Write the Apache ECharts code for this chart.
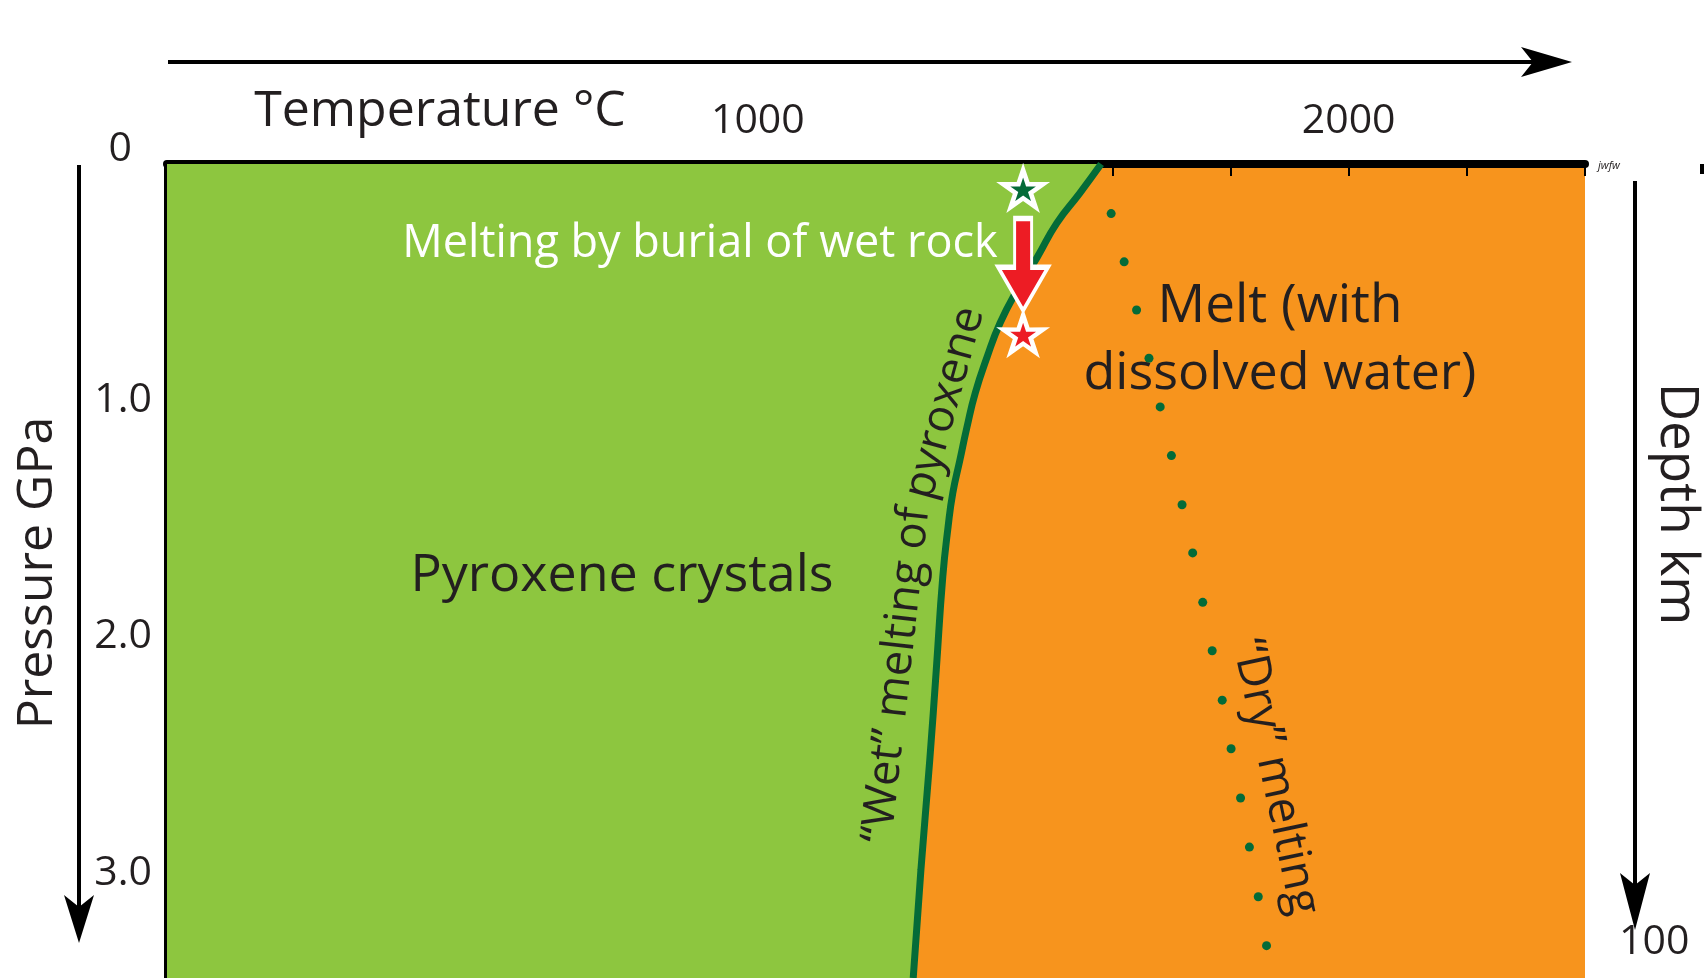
<!DOCTYPE html>
<html>
<head>
<meta charset="utf-8">
<script src="https://cdn.jsdelivr.net/npm/echarts@6.0.0/dist/echarts.min.js"></script>
<style>
  html, body { margin: 0; padding: 0; background: #fff; }
  #chart { width: 1704px; height: 978px; }
</style>
</head>
<body>
<div id="chart"></div>
<script>
  // axes
  var tempMax = 2400;
  var tempLabels = [1000, 2000];
  var pressureMax = 3.445;
  var pressureLabels = [0, 1, 2, 3];
  var depthMax = 104.63;
  var depthTicks = [10, 20, 30, 40, 50, 60, 70, 80, 90, 100];
  var depthLabels = [100];

  // "wet" melting curve of pyroxene (temperature C, pressure GPa)
  var wetT = [1581, 1545, 1506, 1473, 1439, 1410, 1388, 1368, 1354, 1342, 1330, 1322, 1313, 1302, 1291, 1276, 1263];
  var wetP = [0, 0.123, 0.25, 0.394, 0.533, 0.673, 0.817, 0.969, 1.113, 1.253, 1.392, 1.536, 1.748, 2.141, 2.522, 2.988, 3.445];

  // "dry" melting dots
  var dryT = [1598, 1620, 1641, 1662, 1681, 1700, 1718, 1736, 1753, 1769, 1786, 1801, 1817, 1832, 1847, 1861];
  var dryP = [0.21, 0.414, 0.618, 0.822, 1.028, 1.234, 1.442, 1.646, 1.855, 2.06, 2.269, 2.475, 2.683, 2.891, 3.101, 3.308];

  // burial path: start star, arrow, end star
  var burialT = 1449;
  var startP = 0.104;
  var arrowP = 0.425;
  var endP = 0.719;

  var FONT = '"Open Sans", "Noto Sans", sans-serif';
  var INK = '#231f20';
  var DARK = '#046b38';

  var starPath = 'path://M50,0L61.17,34.63L97.55,34.55L68.07,55.87L79.39,90.45L50,69L20.61,90.45L31.93,55.87L2.45,34.55L38.83,34.63Z';
  var arrowPath = 'path://M33,0L67,0L67,53L100,53L50,100L0,53L33,53Z';

  function zip(a, b) {
    return a.map(function (v, i) { return [v, b[i]]; });
  }

  function txt(s, x, y, size, opts) {
    opts = opts || {};
    return {
      type: 'text', x: x, y: y, rotation: opts.rot || 0, z: 100,
      style: {
        text: s, x: 0, y: 0, fill: opts.color || INK,
        font: (opts.style || 'normal') + ' ' + size + 'px ' + FONT,
        align: opts.align || 'center', verticalAlign: 'middle'
      }
    };
  }

  var chart = echarts.init(document.getElementById('chart'));

  var option = {
    animation: false,
    grid: {
      left: 167, right: 119, top: 164, bottom: 0,
      show: true, backgroundColor: '#f7941d', borderWidth: 0
    },
    xAxis: {
      type: 'value', position: 'top', min: 0, max: tempMax, interval: 200,
      axisLine: { show: true, onZero: false, lineStyle: { color: '#000', width: 8, cap: 'round' } },
      axisTick: { inside: true, length: 12, lineStyle: { color: '#000', width: 2 } },
      axisLabel: {
        customValues: tempLabels, margin: 22,
        fontSize: 41, fontFamily: FONT, color: INK,
        formatter: function (v) { return String(v); }
      },
      splitLine: { show: false }
    },
    yAxis: [{
      type: 'value', inverse: true, min: 0, max: pressureMax, interval: 1,
      axisLine: { show: true, onZero: false, lineStyle: { color: '#000', width: 7 } },
      axisTick: { inside: true, length: 25, lineStyle: { color: '#000', width: 2 } },
      axisLabel: {
        customValues: pressureLabels, margin: 15,
        fontSize: 41, fontFamily: FONT, color: INK,
        formatter: function (v) { return v === 0 ? '{z|0}' : v.toFixed(1); },
        rich: { z: { fontSize: 41, fontFamily: FONT, color: INK, padding: [0, 20, 29, 0] } }
      },
      splitLine: { show: false }
    }, {
      type: 'value', inverse: true, position: 'right', min: 0, max: depthMax, interval: 10,
      axisLine: { show: false },
      axisTick: { show: true, customValues: depthTicks, length: 25, lineStyle: { color: '#000', width: 2.5 } },
      axisLabel: {
        customValues: depthLabels, margin: 34,
        fontSize: 41, fontFamily: FONT, color: INK,
        formatter: function (v) { return String(v); }
      },
      splitLine: { show: false }
    }],
    series: [{
      // solid region left of the wet melting curve
      type: 'custom',
      data: [[0, 0]],
      silent: true,
      z: 1,
      renderItem: function (params, api) {
        var pts = [api.coord([0, 0])];
        for (var i = 0; i < wetT.length; i++) pts.push(api.coord([wetT[i], wetP[i]]));
        pts.push(api.coord([0, pressureMax]));
        return { type: 'polygon', shape: { points: pts }, style: { fill: '#8dc63f' } };
      }
    }, {
      name: 'wet', type: 'line', data: zip(wetT, wetP), smooth: 0.5,
      symbol: 'none', z: 3,
      lineStyle: { color: DARK, width: 7 }
    }, {
      name: 'dry', type: 'scatter', data: zip(dryT, dryP),
      symbol: 'circle', symbolSize: 9, z: 3,
      itemStyle: { color: DARK, opacity: 1 }
    }, {
      type: 'scatter', data: [[burialT, arrowP]], z: 5,
      symbol: arrowPath, symbolSize: [50, 92],
      itemStyle: { color: '#ed1c24', borderColor: '#fff', borderWidth: 4, opacity: 1 }
    }, {
      type: 'scatter', data: [[burialT, startP]], z: 6,
      symbol: starPath, symbolSize: [40, 37],
      itemStyle: { color: DARK, borderColor: '#fff', borderWidth: 4.5, opacity: 1 }
    }, {
      type: 'scatter', data: [[burialT, endP]], z: 6,
      symbol: starPath, symbolSize: [40, 37],
      itemStyle: { color: '#ed1c24', borderColor: '#fff', borderWidth: 4.5, opacity: 1 }
    }],
    graphic: [
      // temperature arrow
      { type: 'line', shape: { x1: 168, y1: 62, x2: 1540, y2: 62 }, style: { stroke: '#000', lineWidth: 4 } },
      { type: 'polygon', shape: { points: [[1521, 47], [1572, 62], [1521, 77], [1533, 62]] }, style: { fill: '#000' } },
      // pressure arrow
      { type: 'line', shape: { x1: 79, y1: 165, x2: 79, y2: 910 }, style: { stroke: '#000', lineWidth: 4 } },
      { type: 'polygon', shape: { points: [[64, 895], [79, 943], [94, 895], [79, 907]] }, style: { fill: '#000' } },
      // depth arrow
      { type: 'line', shape: { x1: 1635, y1: 181, x2: 1635, y2: 890 }, style: { stroke: '#000', lineWidth: 4 } },
      { type: 'polygon', shape: { points: [[1620, 873], [1635, 930], [1650, 873], [1635, 885]] }, style: { fill: '#000' } },
      { type: 'rect', shape: { x: 1700, y: 164, width: 4, height: 10 }, style: { fill: '#000' } },

      txt('Temperature °C', 440, 112, 50),
      txt('Pressure GPa', 38, 573, 50, { rot: Math.PI / 2 }),
      txt('Depth km', 1676, 504, 53, { rot: -Math.PI / 2 }),
      txt('jwfw', 1598, 166, 11, { align: 'left', style: 'italic' }),

      txt('Melting by burial of wet rock', 700, 244, 45, { color: '#fff' }),
      txt('Pyroxene crystals', 622, 576, 52),
      txt('Melt (with', 1280, 307, 53),
      txt('dissolved water)', 1280, 374, 52),
      txt('\u201cWet\u201d melting of', 897, 675, 45, { rot: 83.6 * Math.PI / 180 }),
      txt('pyroxene', 945, 403, 45, { rot: 74.6 * Math.PI / 180 }),
      txt('\u201cDry\u201d melting', 1275, 777, 46, { rot: -78 * Math.PI / 180 })
    ]
  };

  chart.setOption(option);
</script>
</body>
</html>
